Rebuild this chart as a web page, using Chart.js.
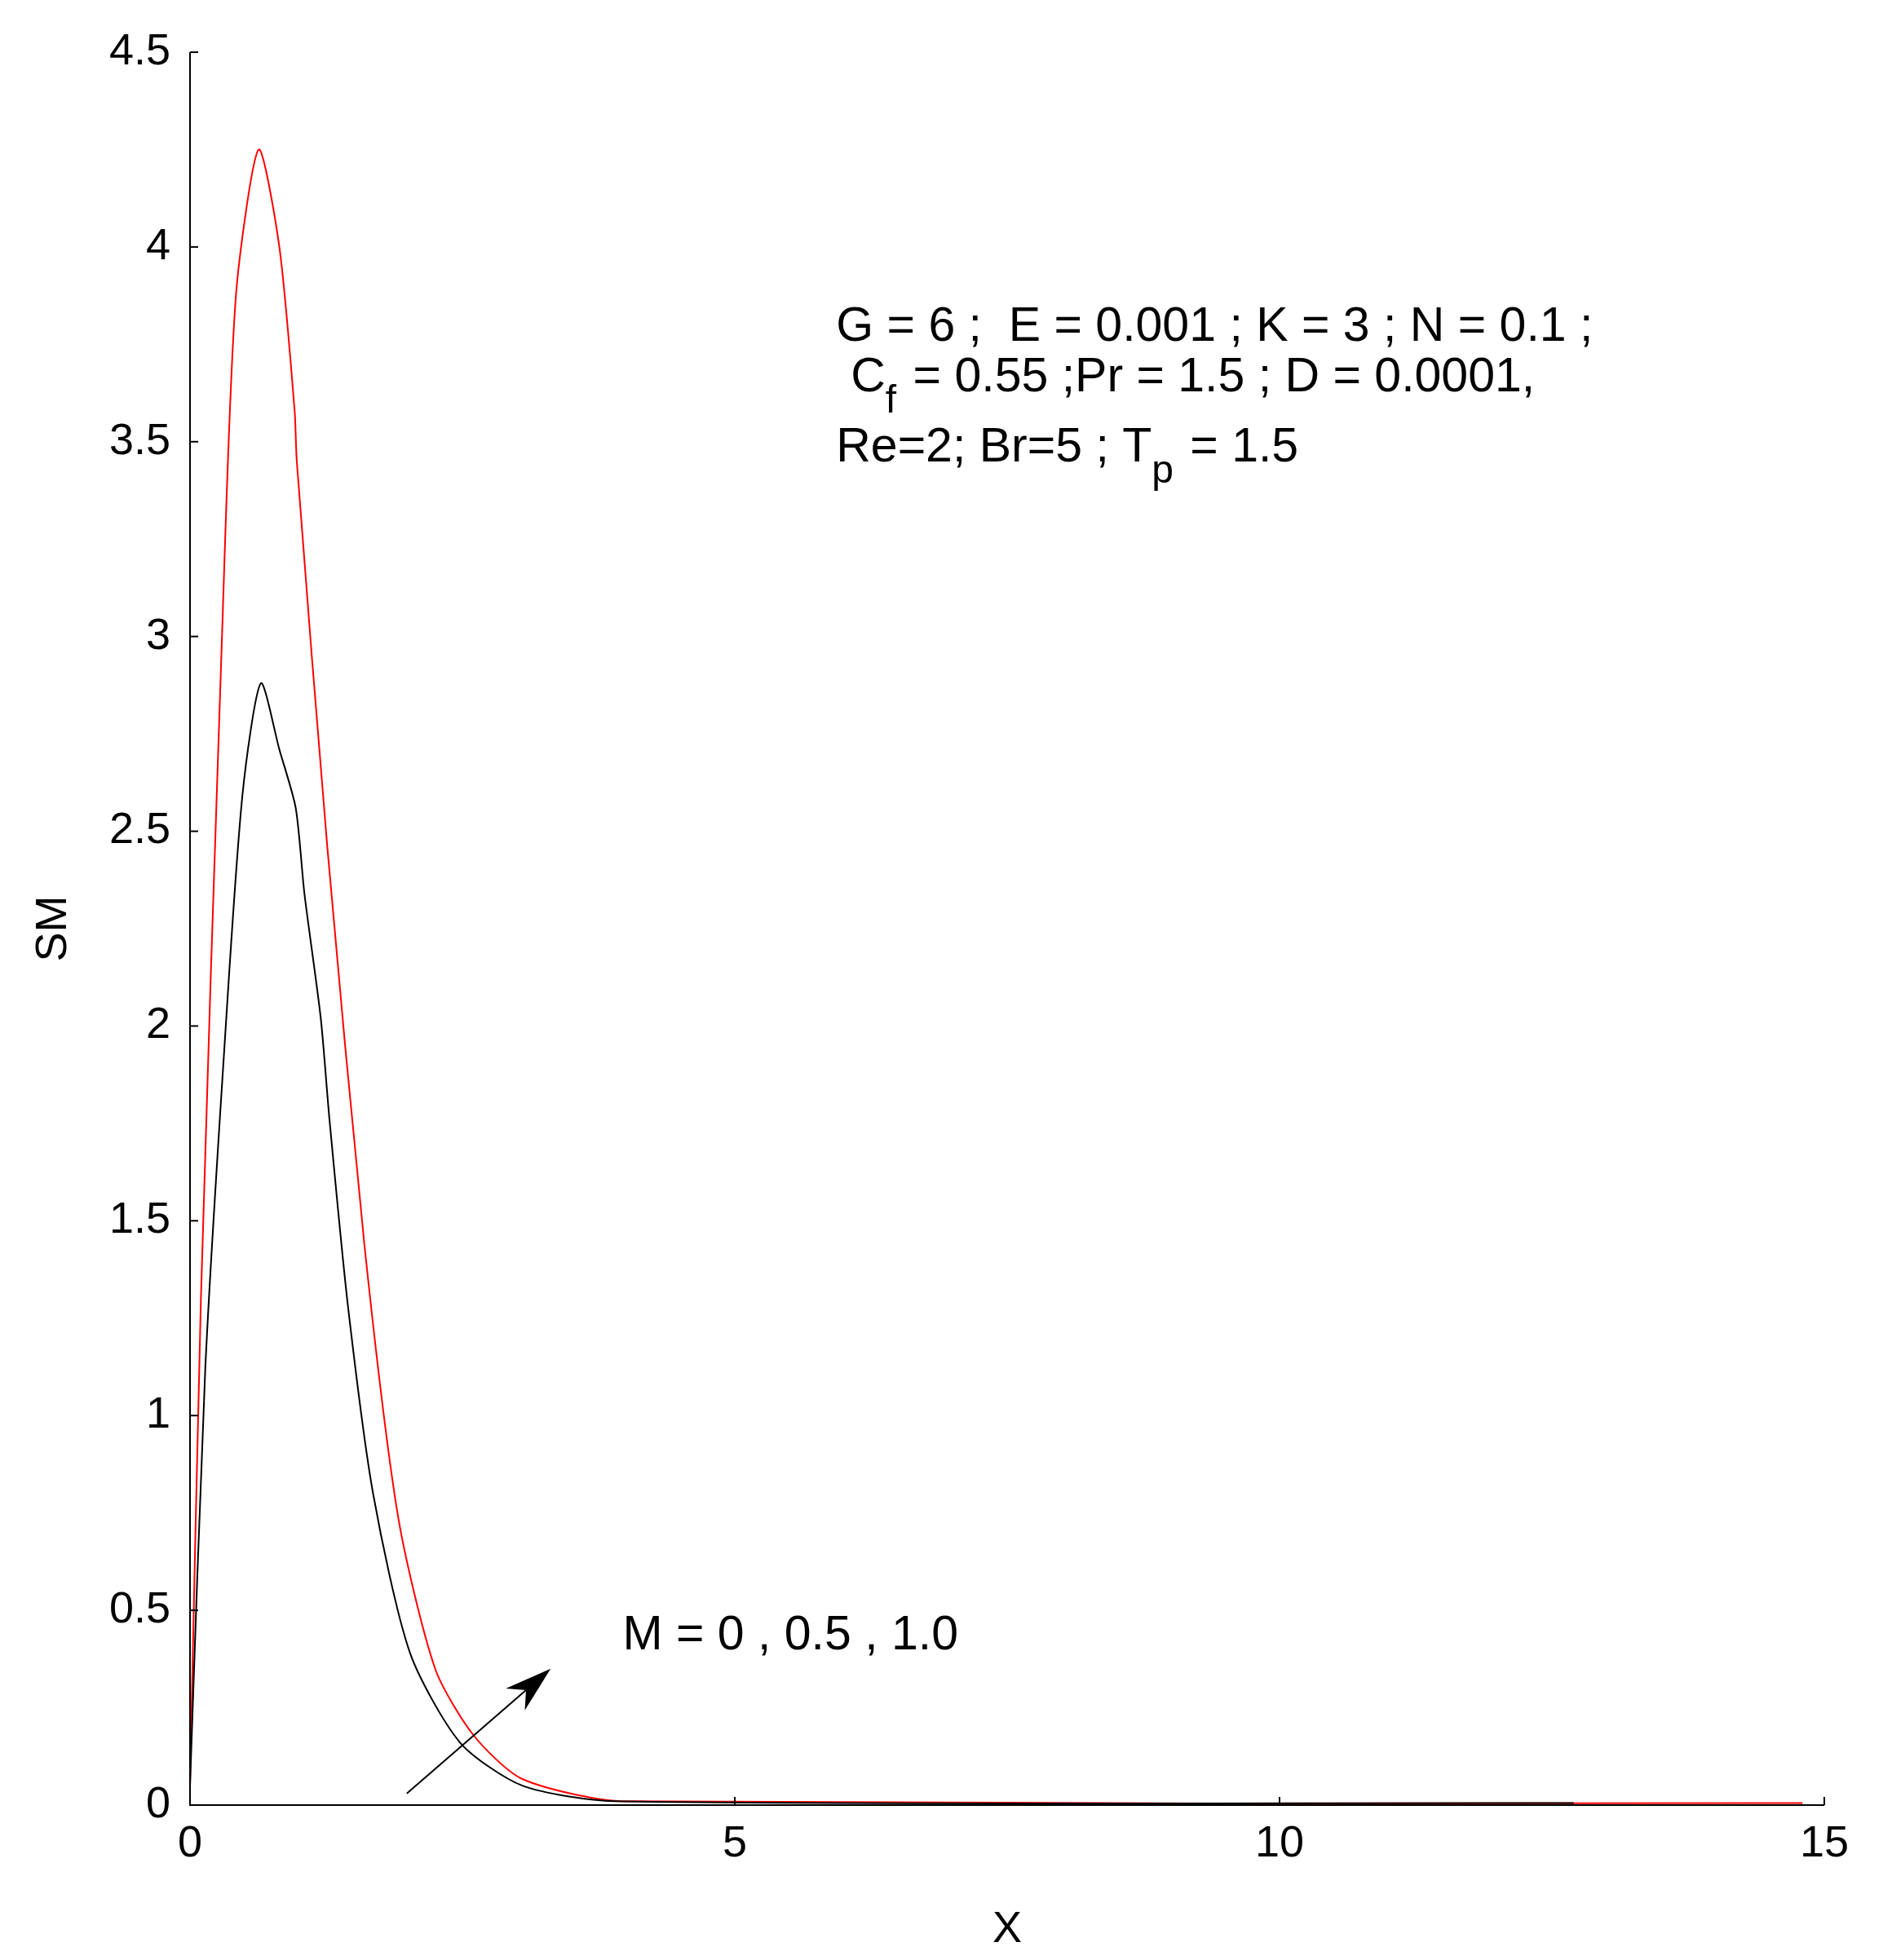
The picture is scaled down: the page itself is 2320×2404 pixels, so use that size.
<!DOCTYPE html>
<html>
<head>
<meta charset="utf-8">
<script src="https://cdn.jsdelivr.net/npm/chart.js@4/dist/chart.umd.min.js"></script>
<style>
  body { margin: 0; background: #fff; }
  #wrap { width: 2320px; height: 2404px; }
</style>
</head>
<body>
<div id="wrap"><canvas id="grafico"></canvas></div>
<script>
// valores
const xRed = [0, 0.1, 0.29, 0.42, 0.63, 0.82, 0.96, 0.98, 1.26, 1.6, 1.91, 2.25, 2.6, 3.05, 3.97, 14.8];
const yRed = [0.05, 1.3, 2.97, 3.87, 4.25, 4.0, 3.58, 3.45, 2.46, 1.44, 0.74, 0.35, 0.18, 0.067, 0.01, 0.005];
const xBlack = [0, 0.14, 0.31, 0.48, 0.65, 0.82, 0.97, 1.05, 1.2, 1.28, 1.45, 1.68, 2.02, 2.48, 3.05, 3.9, 12.7];
const yBlack = [0.05, 1.12, 1.92, 2.59, 2.88, 2.71, 2.56, 2.34, 2.02, 1.76, 1.28, 0.8, 0.39, 0.16, 0.05, 0.01, 0.005];
const xBlue = [0, 15];
const yBlue = [0, 0];
const xTicks = [0, 5, 10, 15];
const yTicks = [0, 0.5, 1, 1.5, 2, 2.5, 3, 3.5, 4, 4.5];

const toPts = (xs, ys) => xs.map((x, i) => ({ x: x, y: ys[i] }));
const FONT = '"Liberation Sans", Arial, sans-serif';
const TXT = 59, SUB = 48;

const anotaciones = {
    id: 'anotaciones',
    afterDraw(chart) {
        const ctx = chart.ctx;
        const sx = chart.scales.x, sy = chart.scales.y;
        const a = chart.chartArea;
        ctx.save();
        // ejes
        ctx.strokeStyle = '#000';
        ctx.lineWidth = 2;
        ctx.beginPath();
        ctx.moveTo(a.left, a.top);
        ctx.lineTo(a.left, a.bottom);
        ctx.lineTo(a.right, a.bottom);
        ctx.stroke();
        // marcas hacia dentro
        yTicks.forEach(v => {
            const py = sy.getPixelForValue(v);
            ctx.beginPath(); ctx.moveTo(a.left, py); ctx.lineTo(a.left + 10, py); ctx.stroke();
        });
        xTicks.forEach(v => {
            const px = sx.getPixelForValue(v);
            ctx.beginPath(); ctx.moveTo(px, a.bottom); ctx.lineTo(px, a.bottom - 10); ctx.stroke();
        });
        // texto
        ctx.fillStyle = '#000';
        ctx.font = TXT + 'px ' + FONT;
        ctx.textBaseline = 'alphabetic';
        const X = sx.getPixelForValue(5.93);
        ctx.fillText('G = 6 ;  E = 0.001 ; K = 3 ; N = 0.1 ;', X, sy.getPixelForValue(3.76));
        let y2 = sy.getPixelForValue(3.63);
        let px = X + 18;
        ctx.fillText('C', px, y2); px += ctx.measureText('C').width;
        ctx.font = SUB + 'px ' + FONT; ctx.fillText('f', px, y2 + 26); px += ctx.measureText('f').width + 4;
        ctx.font = TXT + 'px ' + FONT; ctx.fillText(' = 0.55 ;Pr = 1.5 ; D = 0.0001,', px, y2);
        let y3 = sy.getPixelForValue(3.45);
        px = X;
        ctx.fillText('Re=2; Br=5 ; T', px, y3); px += ctx.measureText('Re=2; Br=5 ; T').width;
        ctx.font = SUB + 'px ' + FONT; ctx.fillText('p', px, y3 + 26); px += ctx.measureText('p').width + 4;
        ctx.font = TXT + 'px ' + FONT; ctx.fillText(' = 1.5', px, y3);
        ctx.fillText('M = 0 , 0.5 , 1.0', sx.getPixelForValue(3.97), sy.getPixelForValue(0.40));
        // flecha
        const x1 = sx.getPixelForValue(1.99), y1 = sy.getPixelForValue(0.03);
        const xa = sx.getPixelForValue(3.31), ya = sy.getPixelForValue(0.35);
        const ang = Math.atan2(ya - y1, xa - x1);
        ctx.lineWidth = 2;
        ctx.beginPath(); ctx.moveTo(x1, y1); ctx.lineTo(xa - 40 * Math.cos(ang), ya - 40 * Math.sin(ang)); ctx.stroke();
        ctx.beginPath();
        ctx.moveTo(xa, ya);
        ctx.lineTo(xa - 60 * Math.cos(ang - 0.3), ya - 60 * Math.sin(ang - 0.3));
        ctx.lineTo(xa - 40 * Math.cos(ang), ya - 40 * Math.sin(ang));
        ctx.lineTo(xa - 60 * Math.cos(ang + 0.3), ya - 60 * Math.sin(ang + 0.3));
        ctx.closePath(); ctx.fill();
        ctx.restore();
    }
};

new Chart(document.getElementById('grafico').getContext('2d'), {
    type: 'scatter',
    data: {
        datasets: [
            { data: toPts(xBlue, yBlue), showLine: true, borderColor: '#0000ff', borderWidth: 2, pointRadius: 0 },
            { data: toPts(xBlack, yBlack), showLine: true, borderColor: '#000000', borderWidth: 2, pointRadius: 0, tension: 0.25 },
            { data: toPts(xRed, yRed), showLine: true, borderColor: '#ff0000', borderWidth: 2, pointRadius: 0, tension: 0.25 }
        ]
    },
    options: {
        responsive: true,
        maintainAspectRatio: false,
        animation: false,
        layout: { padding: { top: 64, right: 83, left: 30, bottom: 0 } },
        plugins: { legend: { display: false }, tooltip: { enabled: false } },
        scales: {
            x: {
                min: 0, max: 15,
                afterBuildTicks: s => { s.ticks = xTicks.map(v => ({ value: v })); },
                afterFit: s => { s.height = 190; },
                grid: { display: false }, border: { display: false },
                ticks: { color: '#000', font: { size: 54, family: FONT }, padding: 8, maxRotation: 0 },
                title: { display: true, text: 'X', color: '#000', font: { size: 54, family: FONT }, padding: { top: 4 } }
            },
            y: {
                min: 0, max: 4.5,
                afterBuildTicks: s => { s.ticks = yTicks.map(v => ({ value: v })); },
                afterFit: s => { s.width = 203; },
                grid: { display: false }, border: { display: false },
                ticks: { color: '#000', font: { size: 54, family: FONT }, padding: 16, callback: v => String(v) },
                title: { display: true, text: 'SM', color: '#000', font: { size: 54, family: FONT }, padding: { bottom: 10 } }
            }
        }
    },
    plugins: [anotaciones]
});
</script>
</body>
</html>
